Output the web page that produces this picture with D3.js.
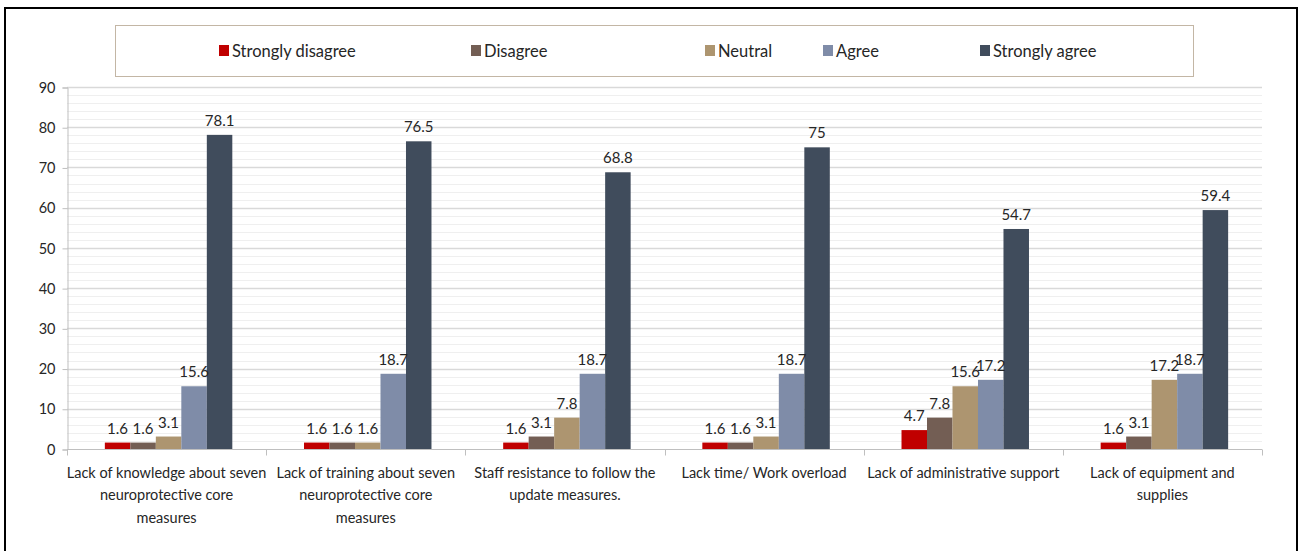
<!DOCTYPE html>
<html>
<head>
<meta charset="utf-8">
<script src="https://cdn.jsdelivr.net/npm/d3@7"></script>
<style>
  body { margin: 0; background: #fff; }
  svg text { font-family: Lato, 'Open Sans', sans-serif; fill: #262626; }
</style>
</head>
<body>
<div id="vis"></div>
<script>
'use strict'

// category names, with the line breaks the original chart uses
const categories = [
  'Lack of knowledge about seven|neuroprotective core|measures'
, 'Lack of training about seven|neuroprotective core|measures'
, 'Staff resistance to follow the|update measures.'
, 'Lack time/ Work overload'
, 'Lack of administrative support'
, 'Lack of equipment and|supplies'
]

const seriesNames = ['Strongly disagree', 'Disagree', 'Neutral', 'Agree', 'Strongly agree']
const seriesColors = ['#c00000', '#735e54', '#ad9570', '#7f8ca8', '#404c5c']

const stronglyDisagree = [1.6, 1.6, 1.6, 1.6, 4.7, 1.6]
const disagree = [1.6, 1.6, 3.1, 1.6, 7.8, 3.1]
const neutral = [3.1, 1.6, 7.8, 3.1, 15.6, 17.2]
const agree = [15.6, 18.7, 18.7, 18.7, 17.2, 18.7]
const stronglyAgree = [78.1, 76.5, 68.8, 75, 54.7, 59.4]

const yTicks = [0, 10, 20, 30, 40, 50, 60, 70, 80, 90]

const seriesValues = [stronglyDisagree, disagree, neutral, agree, stronglyAgree]

const dataset = []
categories.forEach((c, i) => {
  seriesNames.forEach((s, j) => {
    dataset.push({ category: c, series: s, value: seriesValues[j][i] })
  })
})

//
// CHART CONFIG
//

const totalWidth = 1301
const totalHeight = 551
const plot = { left: 67, right: 1262, top: 87, bottom: 449 }

const svg = d3.select('div#vis')
  .append('svg')
    .attr('width', totalWidth)
    .attr('height', totalHeight)

svg // outer frame
  .append('rect')
    .attr('x', 5)
    .attr('y', 8)
    .attr('width', 1292)
    .attr('height', 560)
    .attr('fill', 'none')
    .attr('stroke', '#000')
    .attr('stroke-width', 2)

//
// SCALES
//

const y = d3.scaleLinear()
  .domain([0, 90])
  .range([plot.bottom, plot.top])

const x0 = d3.scaleBand()
  .domain(categories)
  .range([plot.left, plot.right])

const x1 = d3.scaleBand()
  .domain(seriesNames)
  .range([x0.bandwidth() * 0.19, x0.bandwidth() * 0.83])

const color = d3.scaleOrdinal()
  .domain(seriesNames)
  .range(seriesColors)

//
// GRID
//

const minorTicks = d3.range(0, 91, 2).filter(v => v % 10 !== 0)

svg.append('g')
  .selectAll('line')
  .data(minorTicks)
  .join('line')
    .attr('x1', plot.left)
    .attr('x2', plot.right)
    .attr('y1', d => Math.round(y(d)) + 0.5)
    .attr('y2', d => Math.round(y(d)) + 0.5)
    .attr('stroke', '#efefef')

svg.append('g')
  .selectAll('line')
  .data(yTicks.filter(d => d > 0))
  .join('line')
    .attr('x1', plot.left)
    .attr('x2', plot.right)
    .attr('y1', d => Math.round(y(d)) + 0.5)
    .attr('y2', d => Math.round(y(d)) + 0.5)
    .attr('stroke', '#d9d9d9')
    .attr('stroke-width', 1.5)

//
// Y AXIS
//

const yAxis = d3.axisLeft(y)
  .tickValues(yTicks)
  .tickSize(5)
  .tickPadding(7)

const yG = svg.append('g')
  .attr('transform', 'translate(' + (plot.left + 0.5) + ',0.5)')
  .call(yAxis)
yG.selectAll('path, line').attr('stroke', '#bfbfbf')
yG.selectAll('text')
  .attr('font-size', 14.5)
  .attr('font-family', 'Lato, sans-serif')
  .attr('fill', '#262626')

//
// X AXIS
//

const xG = svg.append('g')
  .attr('transform', 'translate(0,' + (plot.bottom + 0.5) + ')')

xG.append('line')
  .attr('x1', plot.left)
  .attr('x2', plot.right)
  .attr('stroke', '#bfbfbf')

xG.selectAll('line.tick')
  .data(categories.map(c => x0(c)).concat([plot.right]))
  .join('line')
    .classed('tick', true)
    .attr('x1', d => Math.round(d) + 0.5)
    .attr('x2', d => Math.round(d) + 0.5)
    .attr('y1', 0)
    .attr('y2', 6)
    .attr('stroke', '#bfbfbf')

xG.selectAll('text.cat')
  .data(categories)
  .join('text')
    .classed('cat', true)
    .attr('font-size', 14.5)
    .attr('text-anchor', 'middle')
    .attr('y', 28)
    .selectAll('tspan')
    .data(d => d.split('|').map(line => ({ line, cx: x0(d) + x0.bandwidth() / 2 })))
    .join('tspan')
      .attr('x', d => d.cx)
      .attr('dy', (d, i) => i === 0 ? 0 : 22.5)
      .text(d => d.line)

//
// BARS
//

const groups = svg.append('g')
  .selectAll('g')
  .data(categories)
  .join('g')
    .attr('transform', d => 'translate(' + x0(d) + ',0)')

groups.selectAll('rect')
  .data(c => dataset.filter(d => d.category === c))
  .join('rect')
    .attr('x', d => x1(d.series))
    .attr('y', d => y(d.value))
    .attr('width', x1.bandwidth())
    .attr('height', d => y(0) - y(d.value))
    .attr('fill', d => color(d.series))

groups.selectAll('text')
  .data(c => dataset.filter(d => d.category === c))
  .join('text')
    .attr('x', d => x1(d.series) + x1.bandwidth() / 2)
    .attr('y', d => y(d.value) - 9)
    .attr('text-anchor', 'middle')
    .attr('font-size', 15)
    .text(d => d.value)

//
// LEGEND
//

svg.append('rect')
  .attr('x', 115.5)
  .attr('y', 25.5)
  .attr('width', 1078)
  .attr('height', 51)
  .attr('fill', '#fff')
  .attr('stroke', '#c3b6a5')

const legendX = [219, 471, 705, 823, 980]

const legend = svg.append('g')
  .selectAll('g')
  .data(seriesNames)
  .join('g')
    .attr('transform', (d, i) => 'translate(' + legendX[i] + ',51)')

legend.append('rect')
  .attr('x', 0)
  .attr('y', -6)
  .attr('width', 10)
  .attr('height', 11)
  .attr('fill', d => color(d))

legend.append('text')
  .attr('x', 13)
  .attr('dy', '0.35em')
  .attr('font-size', 16.5)
  .text(d => d)
</script>
</body>
</html>
